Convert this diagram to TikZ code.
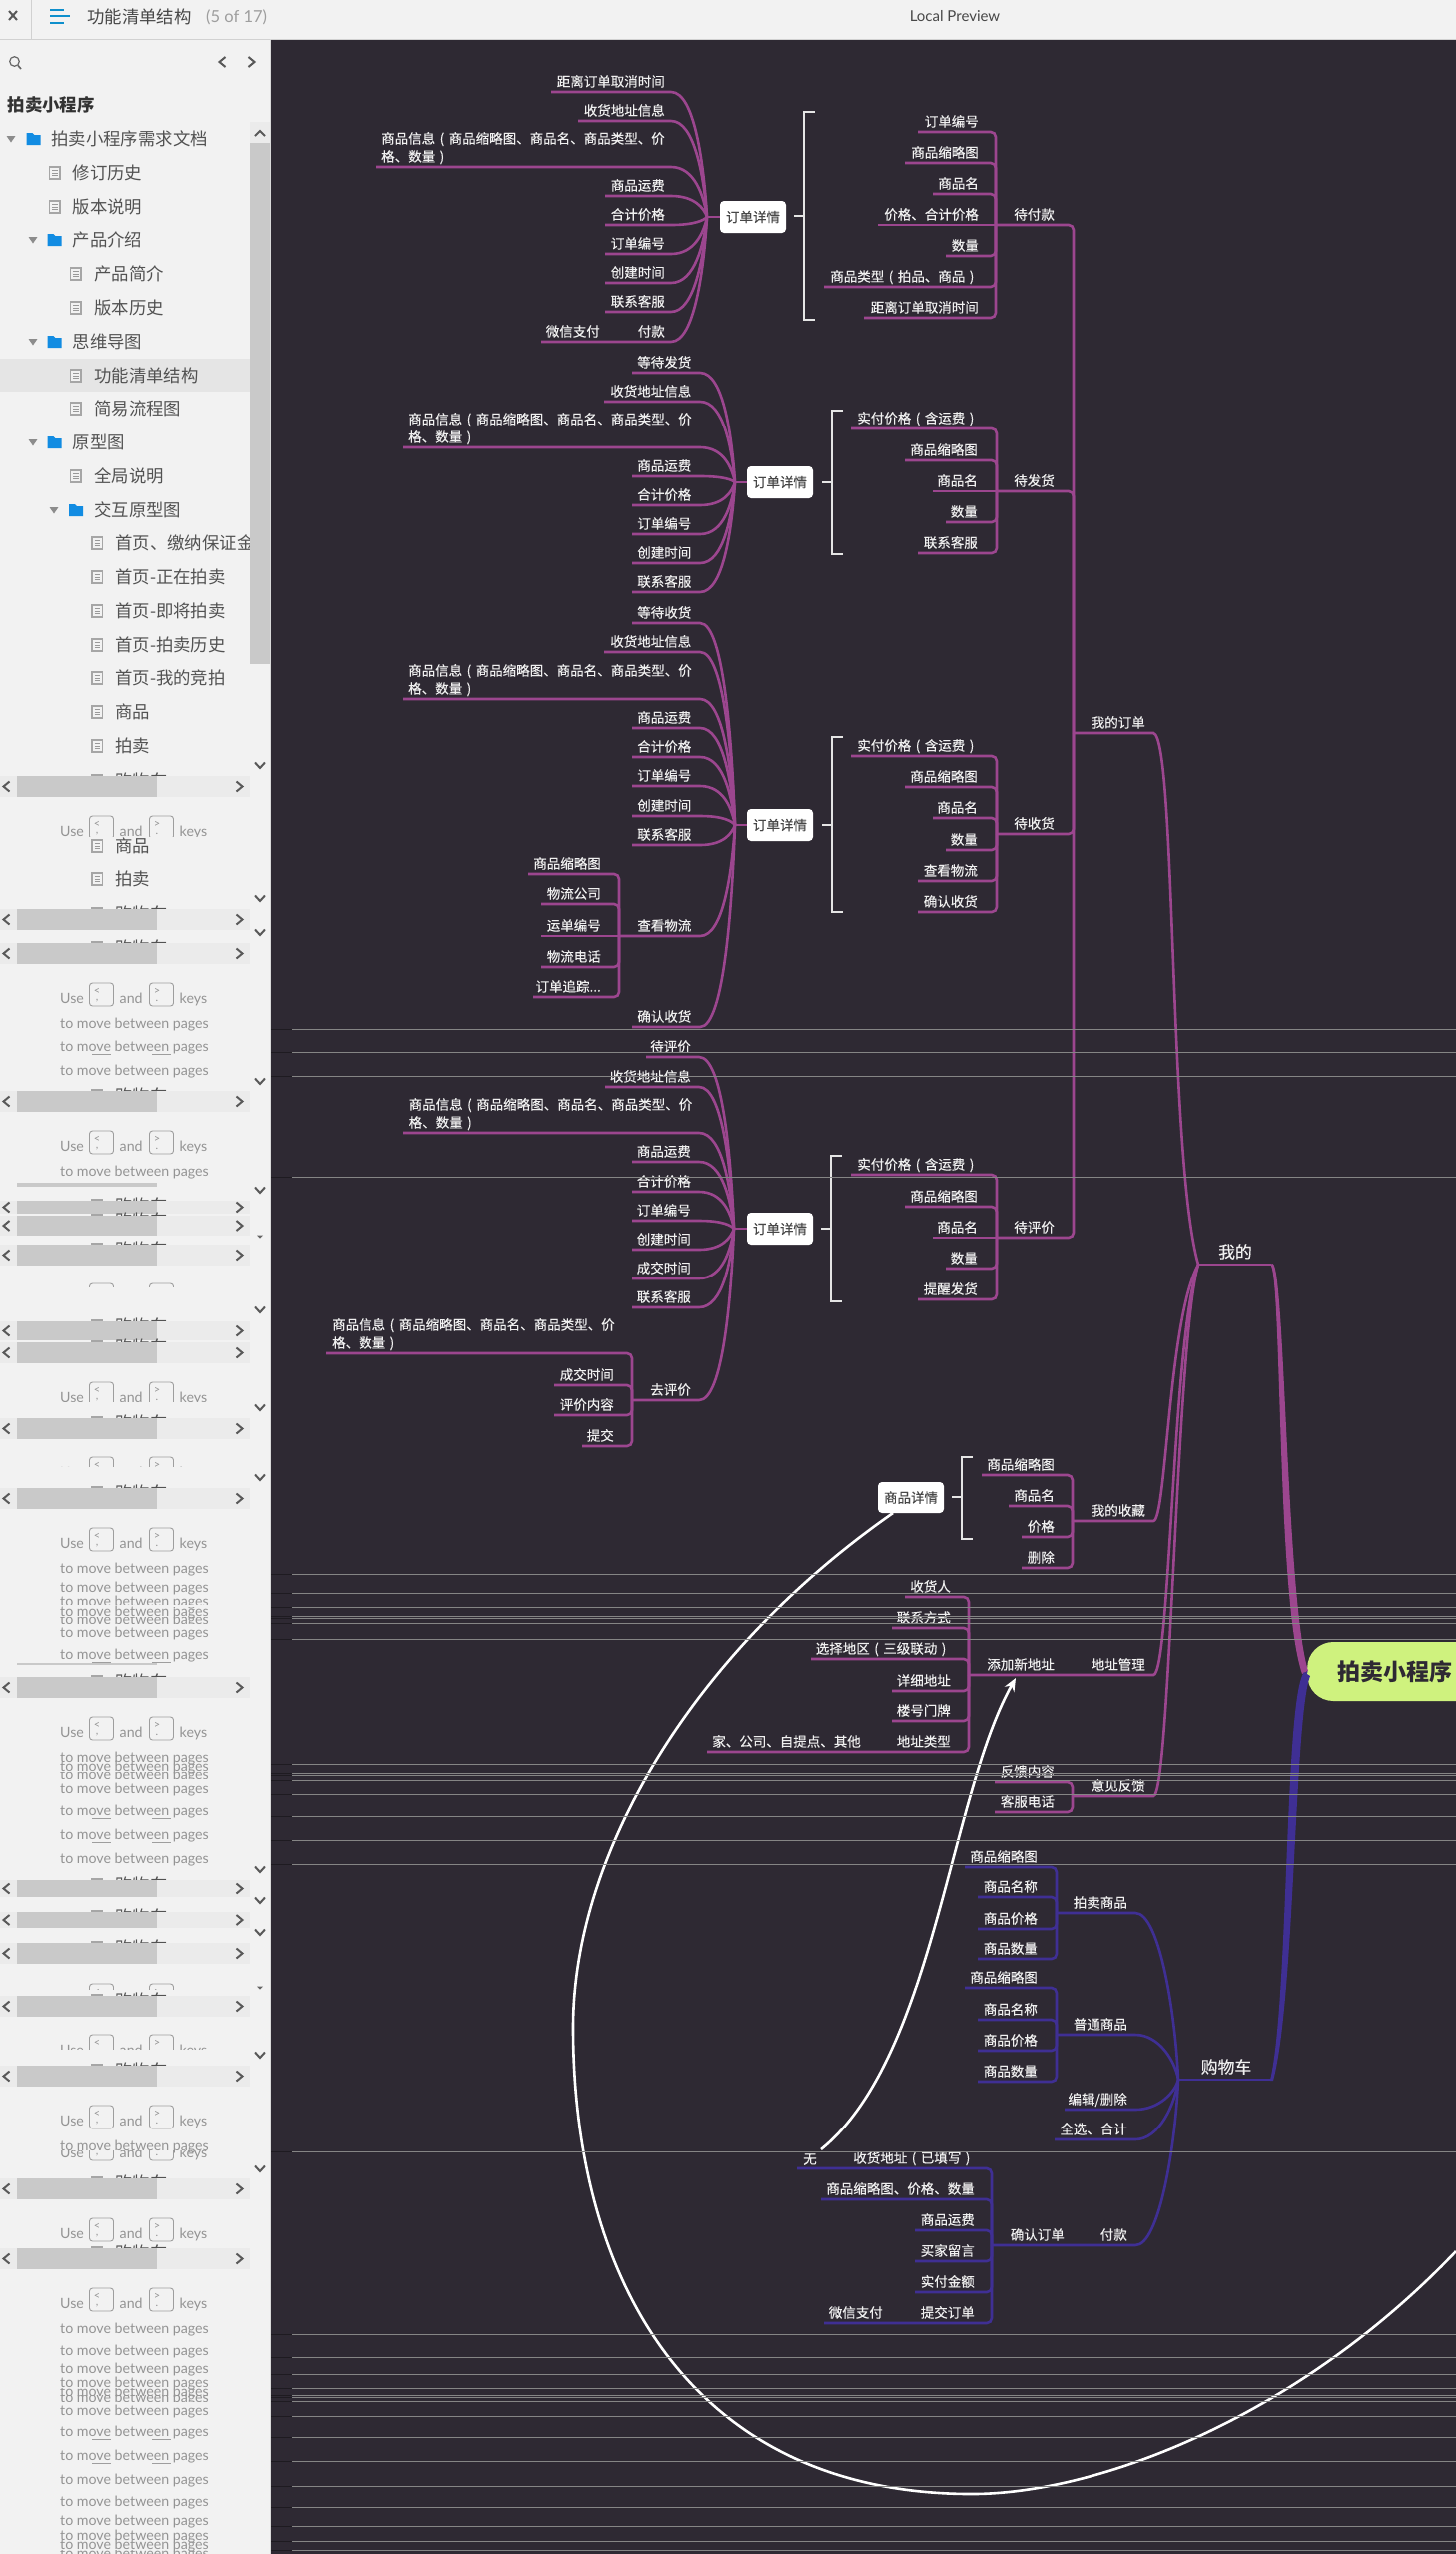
\documentclass[tikz,border=0pt]{standalone}
\usepackage{fontspec}
\usetikzlibrary{arrows.meta}
\newfontfamily\cjk{Noto Sans CJK SC}
\newfontfamily\cjkb[FakeBold=0.25]{Noto Sans CJK SC}
\newfontfamily\lat{Lato}
\definecolor{dark}{HTML}{2E2933}
\definecolor{side}{HTML}{F2F2F2}
\definecolor{purp}{HTML}{9C468F}
\definecolor{blu}{HTML}{3F2F94}
\definecolor{sbar}{HTML}{C9C9C9}
\definecolor{rootc}{HTML}{CFF27E}
\definecolor{foldc}{HTML}{128CE2}
\definecolor{hamb}{HTML}{0E8FCC}
\colorlet{brc}{purp}
\newcounter{lf}
\newcommand\LP{\makebox[13.5pt][c]{(}}
\newcommand\RP{\makebox[13.5pt][c]{)}}
\tikzset{
 lbl/.style={inner sep=0pt,text=white!94!black,font=\fontsize{13.5}{18}\selectfont\cjkb},
 br/.style={draw=brc,line width=2.6pt,rounded corners=5pt},
 cv/.style={draw=brc,line width=2.6pt},
 card/.style={fill=white,rounded corners=4pt,minimum width=66pt,minimum height=32pt,inner sep=0pt,text=black!72,font=\fontsize{13.5}{18}\selectfont\cjkb},
 brk/.style={draw=white!90!black,line width=2.2pt},
 sidet/.style={inner sep=0pt,text=black!68,font=\fontsize{17.4}{20}\selectfont\cjk},
 usekey/.style={inner sep=0pt,text=black!42,font=\fontsize{14.2}{18}\selectfont\lat},
 chev/.style={draw=black!65,line width=2pt},
 wire/.style={draw=white,line width=2.6pt},
}
% mind-map helpers
\newcommand\Tx[3]{\stepcounter{lf}\node[lbl,anchor=base east](T\thelf) at (#1,#2-5.4){#3};}
\newcommand\CvP[2]{\stepcounter{lf}\coordinate(E\thelf) at (#2,#1);\draw[cv](E\thelf)--(\bx,#1) .. controls ({\bx+24},#1) and ({\hx-3},{\hy+0.4*(#1-\hy)}) .. (hub);}
\newcommand\Cv[3]{\Tx{\tr}{#1}{#3}\CvP{#1}{#2}}
\newcommand\Wr[4]{\stepcounter{lf}\node[lbl,align=left,anchor=base west](W\thelf) at (#1,#2-5.4){#3\\#4};}
\newcommand\El[3]{\Tx{\tr}{#1}{#3}\stepcounter{lf}\coordinate(E\thelf) at (#2,#1);\draw[br](E\thelf)--(\tx,#1)--(P);}
\newcommand\St[3]{\Tx{\tr}{#1}{#3}\stepcounter{lf}\coordinate(E\thelf) at (#2,#1);\draw[cv](E\thelf)--(P);}
\newcommand\Par[2]{\def\tx{#1}\def\py{#2}\coordinate(P) at (#1,#2);}
\newcommand\Hub[4]{\def\hx{#1}\def\hy{#2}\def\bx{#3}\def\tr{#4}\coordinate(hub) at (#1,#2);}
\newcommand\Brk[4]{\stepcounter{lf}\coordinate(K\thelf) at (#1,#4);\draw[brk](#1+11,#2)--(#1,#2)--(#1,#3)--(#1+11,#3);\draw[brk](#1-10,#4)--(K\thelf);}
% sidebar helpers
\newcommand\File[2]{\draw[black!35,line width=1.1pt,fill=side](#1,#2-6) rectangle (#1+10.5,#2+6);
 \foreach\q in {-2.8,0,2.8}{\draw[black!40,line width=.9pt](#1+2.5,#2+\q)--(#1+8,#2+\q);}}
\newcommand\Fold[2]{\fill[foldc](#1,#2-6)--(#1+6,#2-6)--(#1+8,#2-4)--(#1+14,#2-4)--(#1+14,#2+6)--(#1,#2+6)--cycle;}
\newcommand\Tri[2]{\fill[black!45](#1-4.5,#2-3)--(#1+4.5,#2-3)--(#1,#2+3.5)--cycle;}
\newcommand\It[3]{\stepcounter{lf}\node[sidet,anchor=base west](S\thelf) at (#1,#2+6.5){#3};}
\newcommand\LeftC[2]{\draw[chev](#1+3.5,#2-5)--(#1-2.5,#2)--(#1+3.5,#2+5);}
\newcommand\RightC[2]{\draw[chev](#1-3.5,#2-5)--(#1+2.5,#2)--(#1-3.5,#2+5);}
\newcommand\CD[1]{\draw[chev](255,#1-3.5)--(260,#1+2)--(265,#1-3.5);}
\newcommand\CDs[1]{\fill[black!60](257,#1-1.5)--(263,#1-1.5)--(260,#1+1.5)--cycle;}
\newcommand\SB[2]{\File{92}{#1+5}\It{115}{#1+5}{购物车}\fill[side!97!black](0,#1) rectangle (250,#2);\fill[sbar](17,#1) rectangle (157,#2);
 \pgfmathsetmacro\midy{(#1+#2)/2}\LeftC{6}{\midy}\RightC{240}{\midy}}
\newcommand\UK[1]{\stepcounter{lf}\node[usekey,anchor=base west](U\thelf) at (60,#1+5){Use};
 \node[usekey,anchor=base west](A\thelf) at (119.5,#1+5){and};
 \node[usekey,anchor=base west](B\thelf) at (179.5,#1+5){keys};
 \draw[black!38,line width=.9pt,rounded corners=3pt](89.5,#1-15) rectangle (113.5,#1+8);
 \draw[black!38,line width=.9pt,rounded corners=3pt](149.5,#1-15) rectangle (173.5,#1+8);
 \node[usekey,font=\fontsize{11}{11}\selectfont\lat](C\thelf) at (97,#1-7){<};
 \node[usekey,font=\fontsize{11}{11}\selectfont\lat](D\thelf) at (97,#1+3){,};
 \node[usekey,font=\fontsize{11}{11}\selectfont\lat](F\thelf) at (157,#1-7){>};
 \node[usekey,font=\fontsize{11}{11}\selectfont\lat](G\thelf) at (157,#1+3){.};}
\newcommand\UKc[3]{\begin{scope}\clip(0,#2) rectangle (250,#3);\UK{#1}\end{scope}}
\newcommand\TM[1]{\stepcounter{lf}\node[usekey,anchor=base west](M\thelf) at (60,#1+5){to move between pages};}
\newcommand\TMu[1]{\TM{#1}\draw[black!38,line width=.9pt](92,#1+8)--(111,#1+8)(152,#1+8)--(171,#1+8);}
\newcommand\TMc[3]{\begin{scope}\clip(0,#2) rectangle (250,#3);\TM{#1}\end{scope}}
\begin{document}
\begin{tikzpicture}[x=1pt,y=-1pt]
\useasboundingbox (0,0) rectangle (1458,2557);
\fill[dark](0,0) rectangle (1458,2557);
%============= mind map =============
% group 1
\Hub{708}{217}{672}{666}
\Cv{92}{552}{距离订单取消时间}
\Cv{121}{579}{收货地址信息}
\Wr{382}{167}{商品信息\LP 商品缩略图、商品名、商品类型、价}{格、数量\RP}\CvP{167}{377}
\Cv{196}{606}{商品运费}
\Cv{225}{606}{合计价格}
\Cv{254}{606}{订单编号}
\Cv{283}{606}{创建时间}
\Cv{312}{606}{联系客服}
\Cv{342}{542}{付款}\Tx{601}{342}{微信支付}
\node[card](b1) at (754,217){订单详情};
\draw[cv](hub)--(b1.west);
\Brk{805}{112}{320}{216}
\Par{997}{225}\def\tr{980}
\El{132}{919}{订单编号}
\El{163}{906}{商品缩略图}
\El{194}{934}{商品名}
\St{225}{879}{价格、合计价格}
\El{256}{947}{数量}
\El{287}{825}{商品类型\LP 拍品、商品\RP}
\El{318}{865}{距离订单取消时间}
% group 2
\Hub{736}{483}{701}{692.5}
\Cv{373}{633}{等待发货}
\Cv{402}{605}{收货地址信息}
\Wr{409}{448}{商品信息\LP 商品缩略图、商品名、商品类型、价}{格、数量\RP}\CvP{448}{404}
\Cv{477}{633}{商品运费}
\Cv{506}{633}{合计价格}
\Cv{535}{633}{订单编号}
\Cv{564}{633}{创建时间}
\Cv{593}{633}{联系客服}
\node[card](b2) at (781,483){订单详情};
\draw[cv](hub)--(b2.west);
\Brk{833}{411}{555}{483}
\Par{998}{492}\def\tr{980}
\El{429}{852}{实付价格\LP 含运费\RP}\def\tr{979}
\El{461}{906}{商品缩略图}
\St{492}{934}{商品名}
\El{523}{947}{数量}
\El{554}{919}{联系客服}
% group 3
\Hub{736}{826}{701}{692.5}
\Cv{624}{633}{等待收货}
\Cv{653}{605}{收货地址信息}
\Wr{409}{700}{商品信息\LP 商品缩略图、商品名、商品类型、价}{格、数量\RP}\CvP{700}{404}
\Cv{729}{633}{商品运费}
\Cv{758}{633}{合计价格}
\Cv{787}{633}{订单编号}
\Cv{817}{633}{创建时间}
\Cv{846}{633}{联系客服}
\Cv{937}{620}{查看物流}
\Cv{1028}{633}{确认收货}
\node[card](b3) at (781,826){订单详情};
\draw[cv](hub)--(b3.west);
\Par{620}{937}\def\tr{602}
\El{875}{529}{商品缩略图}
\El{905}{542}{物流公司}
\St{937}{542}{运单编号}
\El{968}{542}{物流电话}
\El{998}{534}{订单追踪...}
\Brk{833}{738}{913}{826}
\Par{998}{835}\def\tr{980}
\El{757}{852}{实付价格\LP 含运费\RP}\def\tr{979}
\El{788}{906}{商品缩略图}
\El{819}{934}{商品名}
\El{851}{947}{数量}
\El{882}{919}{查看物流}
\El{913}{919}{确认收货}
% group 4
\Hub{735}{1230}{700}{692}
\Cv{1058}{647}{待评价}
\Cv{1088}{606}{收货地址信息}
\Wr{409.5}{1134}{商品信息\LP 商品缩略图、商品名、商品类型、价}{格、数量\RP}\CvP{1134}{404}
\Cv{1163}{633}{商品运费}
\Cv{1193}{633}{合计价格}
\Cv{1222}{633}{订单编号}
\Cv{1251}{633}{创建时间}
\Cv{1280}{633}{成交时间}
\Cv{1309}{633}{联系客服}
\Cv{1402}{633}{去评价}
\node[card](b4) at (781,1230){订单详情};
\draw[cv](hub)--(b4.west);
\Par{633}{1402}\def\tr{615}
\Wr{332}{1355}{商品信息\LP 商品缩略图、商品名、商品类型、价}{格、数量\RP}
\stepcounter{lf}\coordinate(E\thelf) at (326,1355);\draw[br](E\thelf)--(633,1355)--(P);
\El{1387}{555}{成交时间}
\El{1417}{555}{评价内容}
\El{1448}{583}{提交}
\Brk{832}{1157}{1303}{1230}
\Par{998}{1239}\def\tr{980}
\El{1176}{852}{实付价格\LP 含运费\RP}\def\tr{979}
\El{1208}{906}{商品缩略图}
\St{1239}{934}{商品名}
\El{1270}{947}{数量}
\El{1301}{919}{提醒发货}
% my orders trunk
\Par{1075}{734}\def\tr{1056}
\El{225}{997}{待付款}
\El{492}{998}{待发货}
\El{835}{998}{待收货}
\El{1239}{998}{待评价}
\coordinate(mh) at (1200,1266);
\Tx{1147}{734}{我的订单}
\draw[cv](P)--(1155,734) .. controls (1178,738) and (1170,1160) .. (mh);
% favourites
\Par{1074}{1523}\def\tr{1056}
\El{1477}{983}{商品缩略图}
\El{1508}{1010}{商品名}
\El{1539}{1023}{价格}
\El{1570}{1023}{删除}
\Tx{1147}{1523}{我的收藏}
\draw[cv](P)--(1155,1523) .. controls (1168,1523) and (1170,1320) .. (mh);
\node[card,minimum width=66pt,minimum height=31pt](b5) at (912,1499.5){商品详情};
\Brk{963}{1459}{1541}{1499}
% address
\Par{970}{1677}\def\tr{952}
\El{1599}{906}{收货人}
\El{1630}{893}{联系方式}
\El{1661}{812}{选择地区\LP 三级联动\RP}
\El{1693}{893}{详细地址}
\El{1723}{893}{楼号门牌}
\El{1754}{708}{地址类型}\Tx{862}{1754}{家、公司、自提点、其他}
\Tx{1056}{1677}{添加新地址}
\Tx{1147}{1677}{地址管理}
\draw[cv](P)--(1155,1677) .. controls (1172,1677) and (1174,1340) .. (mh);
% feedback
\Par{1074}{1798}\def\tr{1056}
\El{1784}{996}{反馈内容}
\El{1814}{996}{客服电话}
\Tx{1147}{1798}{意见反馈}
\draw[cv](P)--(1155,1798) .. controls (1172,1798) and (1178,1340) .. (mh);
% "my"
\coordinate(me) at (1273,1266);
\draw[cv](mh)--(me);
\node[lbl,font=\fontsize{16.8}{20}\selectfont\cjkb](meT) at (1237,1253){我的};
\node[fill=rootc,rounded corners=26pt,minimum height=59pt,minimum width=200pt,anchor=west,inner sep=0pt](root) at (1309,1673.5){};
\node[inner sep=0pt,text=dark,anchor=west,font=\fontsize{23}{26}\selectfont\cjk\bfseries](rootT) at (1339,1674){拍卖小程序};
\draw[cv,line width=1.5pt](me) .. controls (1285,1270) and (1280,1600) .. (root.west);
\fill[purp](1272,1266) .. controls (1284,1270) and (1278,1600) .. (1304,1676) -- (1310,1673) .. controls (1288,1600) and (1287,1270) .. (1274.5,1265) -- cycle;
% cart (blue)
\colorlet{brc}{blu}
\coordinate(ch) at (1180,2082);
\coordinate(cr) at (1273,2082);
\draw[cv](ch)--(cr);
\node[lbl,font=\fontsize{16.8}{20}\selectfont\cjkb](cartT) at (1228,2069){购物车};
\draw[cv,line width=1.5pt](root.west) .. controls (1291,1700) and (1294,2000) .. (cr);
\fill[blu](1306,1674) .. controls (1286,1700) and (1291,2000) .. (1272,2083) -- (1275,2083) .. controls (1297,2000) and (1296,1720) .. (1312,1678) -- cycle;
\Hub{1180}{2082}{1137}{1129}
\Tx{1129}{1915}{拍卖商品}
\CvP{1915}{1058}
\Tx{1129}{2037}{普通商品}
\CvP{2037}{1058}
\Cv{2112}{1066}{编辑/删除}
\Cv{2142}{1056}{全选、合计}
\Cv{2248}{993}{付款}\Tx{1066}{2248}{确认订单}
\Par{1058}{1915}\def\tr{1039}
\El{1869}{966}{商品缩略图}
\El{1899}{979}{商品名称}
\El{1931}{979}{商品价格}
\El{1961}{979}{商品数量}
\Par{1058}{2037}
\El{1990}{966}{商品缩略图}
\El{2022}{979}{商品名称}
\El{2053}{979}{商品价格}
\El{2084}{979}{商品数量}
\Par{993}{2248}\def\tr{976}
\El{2171}{798}{收货地址\LP 已填写\RP}
\El{2202}{822}{商品缩略图、价格、数量}
\El{2233}{916}{商品运费}
\El{2264}{916}{买家留言}
\El{2295}{916}{实付金额}
\El{2326}{825}{提交订单}\Tx{884}{2326}{微信支付}
\node[lbl](wu) at (811,2162){无};
% white relation curves
\coordinate(w1) at (822,2152);
\coordinate(w2) at (1017,1680);
\draw[wire,-{Stealth[length=13pt,width=11pt]}](w1) .. controls (935,2060) and (950,1800) .. (w2);
\coordinate(w3) at (1458,2254);
\coordinate(w4) at (894,1515);
\draw[wire](w4) .. controls (700,1650) and (574,1850) .. (574,2030) .. controls (574,2280) and (690,2497) .. (973,2497) .. controls (1100,2497) and (1300,2420) .. (w3);
%============= side bar =============
\fill[side](0,0) rectangle (271,2557);
\fill[side](0,0) rectangle (1458,39);
\draw[black!18,line width=1pt](0,39.5)--(1458,39.5);
\draw[black!18,line width=1pt](31.5,0)--(31.5,39);
\draw[black!65,line width=2pt](9,11)--(17,20)(17,11)--(9,20);
\draw[hamb,line width=2pt](50,10)--(64,10)(50,15.5)--(70,15.5)(50,23)--(64,23);
\node[inner sep=0pt,anchor=base west,text=black!72,font=\fontsize{17.4}{20}\selectfont\cjk](ttl) at (87,23){功能清单结构};
\node[inner sep=0pt,anchor=base west,text=black!38,font=\fontsize{16.5}{20}\selectfont\lat](cnt) at (206,22.5){(5 of 17)};
\node[inner sep=0pt,text=black!72,font=\fontsize{15}{18}\selectfont\lat](lp) at (956,16.5){Local Preview};
\draw[black!60,line width=1.2pt](14.5,61.5) circle (4.8);\draw[black!60,line width=1.6pt](18,65.5)--(21,69);
\LeftC{222}{62}\RightC{252}{62}
\node[inner sep=0pt,anchor=base west,text=black!80,font=\fontsize{17.4}{20}\selectfont\cjk\bfseries](pj) at (7.5,111.5){拍卖小程序};
\fill[black!10](0,359) rectangle (250,392);
\Tri{11}{139}\Fold{26.5}{139}\It{51}{139}{拍卖小程序需求文档}
\File{49.5}{173}\It{72.5}{173}{修订历史}
\File{49.5}{207}\It{72.5}{207}{版本说明}
\Tri{33}{240}\Fold{47.5}{240}\It{72.5}{240}{产品介绍}
\File{70.5}{274}\It{94}{274}{产品简介}
\File{70.5}{308}\It{94}{308}{版本历史}
\Tri{33}{342}\Fold{47.5}{342}\It{72.5}{342}{思维导图}
\File{70.5}{376}\It{94}{376}{功能清单结构}
\File{70.5}{409}\It{94}{409}{简易流程图}
\Tri{33}{443}\Fold{47.5}{443}\It{72.5}{443}{原型图}
\File{70.5}{477}\It{94}{477}{全局说明}
\Tri{54}{511}\Fold{69}{511}\It{94}{511}{交互原型图}
\File{92}{544}\begin{scope}\clip(0,530) rectangle (250,560);\It{115}{544}{首页、缴纳保证金}\end{scope}
\File{92}{578}\It{115}{578}{首页-正在拍卖}
\File{92}{612}\It{115}{612}{首页-即将拍卖}
\File{92}{646}\It{115}{646}{首页-拍卖历史}
\File{92}{679}\It{115}{679}{首页-我的竞拍}
\File{92}{713}\It{115}{713}{商品}
\File{92}{747}\It{115}{747}{拍卖}
% vertical scrollbar
\fill[side!97!black](250,122) rectangle (270,143);
\draw[chev](255,136)--(260,131)--(265,136);
\fill[sbar](250,143) rectangle (270,665);
\draw[black!15,line width=1pt](270.5,39)--(270.5,2557);
\CD{767}
% glitched repeats
\SB{777}{798}\UK{832}
\fill[side](0,838) rectangle (250,909);
\File{92}{847}\It{115}{847}{商品}\File{92}{880}\It{115}{880}{拍卖}\CD{900}
\SB{910}{931}\CD{934}\SB{944}{965}\UK{999}\TM{1024}\TMu{1047}\TM{1071}
\fill[side](0,1079) rectangle (250,1088);\CD{1083}
\SB{1092}{1113}\UK{1147}\TM{1172}
\fill[sbar](17,1184) rectangle (157,1188);\CD{1192}
\SB{1202}{1215}\SB{1217}{1237}\CDs{1238}
\SB{1246}{1267}
\begin{scope}\clip(0,1284) rectangle (250,1288);\UK{1300}\end{scope}
\CD{1312}\SB{1323}{1342}\SB{1344}{1365}\UKc{1399}{1370}{1403}
\CD{1410}\SB{1420}{1441}\UKc{1474}{1458}{1468}
\CD{1480}\SB{1490}{1511}\UK{1545}
\TM{1570}\TM{1589}\TM{1603}\fill[side](0,1607) rectangle (250,1609);\TM{1613}\TMc{1621}{1619}{1625}\TM{1634}\TMu{1656}
\fill[sbar](17,1665) rectangle (157,1667);
\SB{1679}{1700}\UK{1734}
\TM{1759}\TM{1768}\TMc{1776}{1774}{1780}\TM{1790}\TMu{1812}\TMu{1836}\TM{1860}
\CD{1872}\SB{1882}{1899}\CD{1903}\SB{1914}{1930}\CD{1935}\SB{1945}{1966}
\UKc{2001}{1985}{1991}\CDs{1990}
\SB{1998}{2019}\UKc{2052}{2030}{2051}\CD{2058}
\SB{2068}{2089}\UK{2123}\TM{2148}\UKc{2155}{2153}{2165}\CD{2172}
\SB{2181}{2202}\UK{2236}\SB{2251}{2272}\UK{2306}
\TM{2331}\TM{2353}\TM{2371}\TM{2385}\TMc{2394}{2391}{2399}\TMc{2400}{2398}{2404}\TM{2413}\TMu{2434}\TMu{2458}\TM{2482}\TM{2504}\TM{2523}\TM{2538}\TM{2547}\TMc{2556}{2553}{2557}
%============= scan-lines =============
\foreach\y in {1030,1053,1077,1178,1576,1595,1609,1618,1620,1625,1641,1766,1775,1777,1782,1796,1818,1842,1866,2154,2337,2360,2377,2391,2398,2400,2404,2419,2440,2464,2489,2510,2529,2544,2553}{
 \draw[black!35!dark,line width=.8pt](271,\y.5)--(292,\y.5);
 \draw[white!52!black,line width=.7pt](292,\y.5)--(1458,\y.5);
}
\end{tikzpicture}
\end{document}
